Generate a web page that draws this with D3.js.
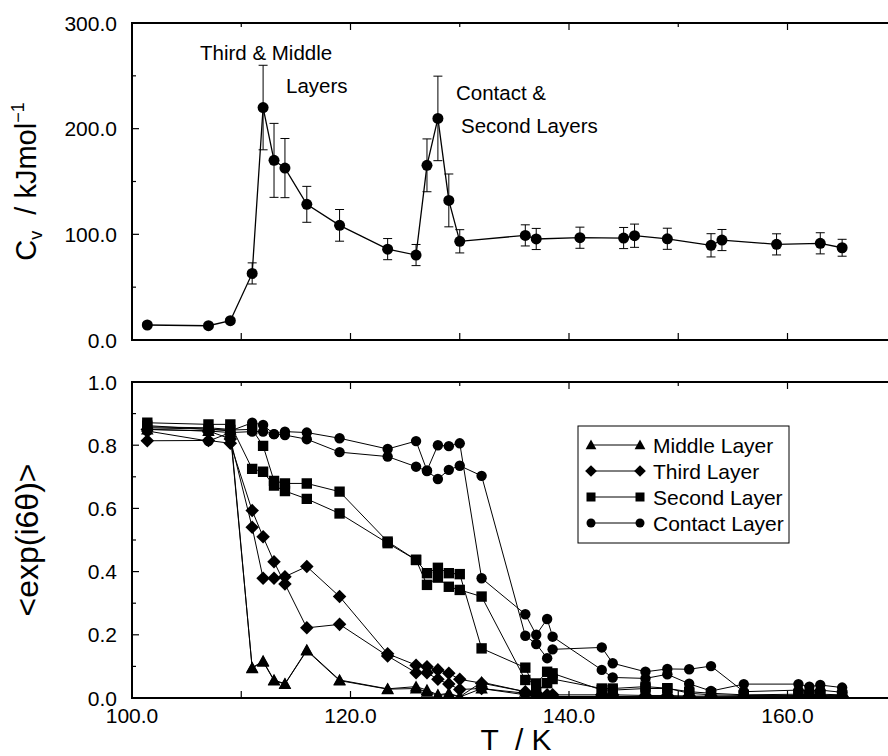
<!DOCTYPE html>
<html>
<head>
<meta charset="utf-8">
<script src="https://d3js.org/d3.v7.min.js"></script>
<style>
body { margin: 0; background: #fff; }
svg { display: block; font-family: "Liberation Sans", Arial, Helvetica, sans-serif; }
</style>
</head>
<body>
<svg width="888" height="756"></svg>
<script>
// top panel: heat capacity with error bars
var cvTemps  = [101.4, 107, 109, 111, 112, 113, 114, 116, 119, 123.4, 126, 127, 128, 129, 130,
                136, 137, 141, 145, 146, 149, 153, 154, 159, 163, 165];
var cvValues = [14.2, 13.5, 18.3, 63, 220, 170, 162.7, 128.4, 108.5, 86, 80.4, 165.3, 209.7, 132.1, 93.4,
                99, 95.6, 96.8, 96.5, 98.7, 95.8, 89.6, 94.6, 90.5, 91.5, 87.3];
var cvErrors = [2, 2, 2, 10, 40, 35, 28, 17, 15, 10, 10, 25, 40, 25, 11,
                10, 10, 10, 10, 11, 10, 11, 10, 10, 10, 8];

// bottom panel: order parameter, two runs for each layer
var psiTemps = [101.4, 107, 109, 111, 112, 113, 114, 116, 119, 123.4, 126, 127, 128, 129, 130, 132,
                136, 137, 138, 138.5, 143, 144, 147, 149, 151, 153, 156, 161, 162, 163, 165];
var middleA  = [0.85, 0.845, 0.84, 0.096, 0.117, 0.057, 0.045, 0.152, 0.057, 0.029, 0.036, 0.025, 0.01, 0.015, 0.004, 0.05,
                0.02, 0.01, 0.005, 0.005, 0.004, 0.004, 0.004, 0.004, 0.003, 0.003, 0.003, 0.003, 0.003, 0.003, 0.003];
var middleB  = [0.858, 0.855, 0.85, 0.094, 0.115, 0.055, 0.044, 0.15, 0.055, 0.028, 0.03, 0.02, 0.008, 0.012, 0.003, 0.03,
                0.01, 0.005, 0.004, 0.004, 0.003, 0.003, 0.003, 0.003, 0.002, 0.002, 0.002, 0.002, 0.002, 0.002, 0.002];
var thirdA   = [0.814, 0.815, 0.806, 0.593, 0.51, 0.431, 0.361, 0.222, 0.233, 0.133, 0.08, 0.08, 0.059, 0.044, 0.027, 0.03,
                0.015, 0.01, 0.008, 0.005, 0.005, 0.005, 0.004, 0.004, 0.003, 0.003, 0.003, 0.003, 0.003, 0.003, 0.003];
var thirdB   = [0.85, 0.845, 0.82, 0.54, 0.379, 0.379, 0.384, 0.416, 0.321, 0.14, 0.104, 0.099, 0.089, 0.078, 0.059, 0.047,
                0.02, 0.015, 0.01, 0.01, 0.01, 0.01, 0.008, 0.008, 0.006, 0.006, 0.005, 0.005, 0.005, 0.005, 0.005];
var secondA  = [0.871, 0.866, 0.866, 0.725, 0.716, 0.672, 0.655, 0.63, 0.584, 0.49, 0.437, 0.358, 0.381, 0.352, 0.342, 0.321,
                0.057, 0.046, 0.083, 0.078, 0.025, 0.025, 0.03, 0.03, 0.02, 0.015, 0.01, 0.012, 0.01, 0.012, 0.01];
var secondB  = [0.862, 0.85, 0.848, 0.85, 0.798, 0.687, 0.679, 0.679, 0.653, 0.495, 0.437, 0.395, 0.412, 0.395, 0.392, 0.157,
                0.096, 0.02, 0.047, 0.06, 0.03, 0.03, 0.036, 0.031, 0.015, 0.01, 0.008, 0.008, 0.008, 0.008, 0.008];
var contactA = [0.855, 0.851, 0.845, 0.871, 0.864, 0.835, 0.843, 0.84, 0.822, 0.788, 0.813, 0.72, 0.8, 0.797, 0.806, 0.379,
                0.265, 0.2, 0.25, 0.194, 0.089, 0.065, 0.062, 0.075, 0.045, 0.022, 0.044, 0.044, 0.036, 0.041, 0.033];
var contactB = [0.845, 0.813, 0.84, 0.843, 0.843, 0.835, 0.832, 0.819, 0.778, 0.764, 0.732, 0.718, 0.693, 0.722, 0.735, 0.703,
                0.197, 0.171, 0.126, 0.154, 0.16, 0.11, 0.083, 0.092, 0.091, 0.101, 0.02, 0.025, 0.022, 0.025, 0.018];

var layerNames = ["Middle Layer", "Third Layer", "Second Layer", "Contact Layer"];
var layerShapes = ["triangle", "diamond", "square", "circle"];

var tTicks = [100, 110, 120, 130, 140, 150, 160, 170];
var tLabels = [100, 120, 140, 160];
var cvTicks = [0, 50, 100, 150, 200, 250, 300];
var cvLabels = [0, 100, 200, 300];
var psiTicks = [0, 0.1, 0.2, 0.3, 0.4, 0.5, 0.6, 0.7, 0.8, 0.9, 1.0];
var psiLabels = [0, 0.2, 0.4, 0.6, 0.8, 1.0];

var svg = d3.select("svg");

var left = 132, right = 896.75;
var x = d3.scaleLinear().domain([100, 170]).range([left, right]);
var yTop = d3.scaleLinear().domain([0, 300]).range([340, 23]);
var yBot = d3.scaleLinear().domain([0, 1]).range([698, 382]);

function markerPath(shape, r) {
    if (shape == "square") return "M" + (-r) + "," + (-r) + "H" + r + "V" + r + "H" + (-r) + "Z";
    if (shape == "diamond") { var s = r * 1.3; return "M0," + (-s) + "L" + s + ",0L0," + s + "L" + (-s) + ",0Z"; }
    if (shape == "triangle") { var t = r * 1.2; return "M0," + (-t) + "L" + t + "," + (t * 0.8) + "L" + (-t) + "," + (t * 0.8) + "Z"; }
    return "M" + r + ",0A" + r + "," + r + " 0 1 1 " + (-r) + ",0A" + r + "," + r + " 0 1 1 " + r + ",0Z";
}

function frame(y, yTicks, yLabels, fmt, showXLabels) {
    var g = svg.append("g");
    var y0 = y.range()[0], y1 = y.range()[1];

    // x ticks, inward on both edges
    g.selectAll(".xb").data(tTicks).enter().append("line")
        .attr("x1", function (d) { return x(d); }).attr("x2", function (d) { return x(d); })
        .attr("y1", y0).attr("y2", y0 - 7)
        .attr("stroke", "#000").attr("stroke-width", 1.2);
    g.selectAll(".xt").data(tTicks).enter().append("line")
        .attr("x1", function (d) { return x(d); }).attr("x2", function (d) { return x(d); })
        .attr("y1", y1).attr("y2", function (d) { return d % 20 == 0 ? y1 + 7 : y1 + 4; })
        .attr("stroke", "#000").attr("stroke-width", 1.2);

    g.selectAll(".yt").data(yTicks).enter().append("line")
        .attr("x1", left).attr("x2", function (d) { return yLabels.indexOf(d) >= 0 ? left + 7 : left + 4; })
        .attr("y1", function (d) { return y(d); }).attr("y2", function (d) { return y(d); })
        .attr("stroke", "#000").attr("stroke-width", 1.2);

    g.selectAll(".yl").data(yLabels).enter().append("text")
        .attr("x", 117)
        .attr("y", function (d) { return y(d); })
        .attr("dy", "0.36em")
        .attr("text-anchor", "end")
        .attr("font-size", 21)
        .text(function (d) { return fmt(d); });

    if (showXLabels) {
        g.selectAll(".xl").data(tLabels).enter().append("text")
            .attr("x", function (d) { return x(d); })
            .attr("y", 723)
            .attr("text-anchor", "middle")
            .attr("font-size", 21)
            .text(function (d) { return d3.format(".1f")(d); });
    }

    g.append("path")
        .attr("d", "M" + right + "," + y1 + "H" + left + "V" + y0 + "H" + right)
        .attr("fill", "none").attr("stroke", "#000").attr("stroke-width", 2);
}

frame(yTop, cvTicks, cvLabels, d3.format(".1f"), false);
frame(yBot, psiTicks, psiLabels, d3.format(".1f"), true);

// ---- top panel ----
var cvData = cvTemps.map(function (t, i) { return { t: t, v: cvValues[i], e: cvErrors[i] }; });

var bars = svg.append("g").attr("stroke", "#000").attr("stroke-width", 1);
cvData.forEach(function (d) {
    bars.append("line").attr("x1", x(d.t)).attr("x2", x(d.t))
        .attr("y1", yTop(d.v - d.e)).attr("y2", yTop(d.v + d.e));
    bars.append("line").attr("x1", x(d.t) - 4.5).attr("x2", x(d.t) + 4.5)
        .attr("y1", yTop(d.v - d.e)).attr("y2", yTop(d.v - d.e));
    bars.append("line").attr("x1", x(d.t) - 4.5).attr("x2", x(d.t) + 4.5)
        .attr("y1", yTop(d.v + d.e)).attr("y2", yTop(d.v + d.e));
});

svg.append("path")
    .datum(cvData)
    .attr("fill", "none").attr("stroke", "#000").attr("stroke-width", 1.3)
    .attr("d", d3.line().x(function (d) { return x(d.t); }).y(function (d) { return yTop(d.v); }));

svg.append("g").selectAll("path").data(cvData).enter().append("path")
    .attr("transform", function (d) { return "translate(" + x(d.t) + "," + yTop(d.v) + ")"; })
    .attr("d", markerPath("circle", 5.5))
    .attr("fill", "#000");

var notes = svg.append("g").attr("font-size", 20.5);
notes.append("text").attr("x", 200).attr("y", 60).text("Third & Middle");
notes.append("text").attr("x", 286).attr("y", 93).text("Layers");
notes.append("text").attr("x", 456).attr("y", 100).text("Contact &");
notes.append("text").attr("x", 461).attr("y", 133).text("Second Layers");

// y label top
var yl = svg.append("text")
    .attr("transform", "translate(36," + ((yTop.range()[0] + yTop.range()[1]) / 2) + ") rotate(-90)")
    .attr("text-anchor", "middle")
    .attr("font-size", 29);
yl.append("tspan").text("C");
yl.append("tspan").attr("font-size", 18).attr("dy", 6).text("v");
yl.append("tspan").attr("dy", -6).attr("xml:space", "preserve").text("  / kJmol");
yl.append("tspan").attr("font-size", 18).attr("dy", -12).text("\u22121");

// ---- bottom panel ----
svg.append("clipPath").attr("id", "clipBot").append("rect")
    .attr("x", left).attr("y", 382).attr("width", right - left).attr("height", 698 - 382);

var series = [
    { shape: "triangle", values: middleA },
    { shape: "triangle", values: middleB },
    { shape: "diamond", values: thirdA },
    { shape: "diamond", values: thirdB },
    { shape: "square", values: secondA },
    { shape: "square", values: secondB },
    { shape: "circle", values: contactA },
    { shape: "circle", values: contactB }
];

var plot = svg.append("g").attr("clip-path", "url(#clipBot)");

var psiLine = d3.line()
    .defined(function (d) { return d.v != null; })
    .x(function (d) { return x(d.t); })
    .y(function (d) { return yBot(d.v); });

series.forEach(function (s) {
    s.points = psiTemps.map(function (t, i) { return { t: t, v: s.values[i] }; });
    plot.append("path")
        .datum(s.points)
        .attr("fill", "none").attr("stroke", "#000").attr("stroke-width", 1)
        .attr("d", psiLine);
});

series.forEach(function (s) {
    plot.append("g").selectAll("path")
        .data(s.points.filter(function (d) { return d.v != null; }))
        .enter().append("path")
        .attr("transform", function (d) { return "translate(" + x(d.t) + "," + yBot(d.v) + ")"; })
        .attr("d", markerPath(s.shape, 5.2))
        .attr("fill", "#000");
});

// legend
var leg = svg.append("g").attr("transform", "translate(578,426)");
leg.append("rect").attr("width", 211).attr("height", 117)
    .attr("fill", "#fff").attr("stroke", "#000").attr("stroke-width", 1);
var rows = leg.selectAll("g").data(layerNames).enter().append("g")
    .attr("transform", function (d, i) { return "translate(0," + (19 + i * 26) + ")"; });
rows.append("line").attr("x1", 13).attr("x2", 62).attr("stroke", "#000").attr("stroke-width", 1);
rows.append("path").attr("transform", "translate(13,0)")
    .attr("d", function (d, i) { return markerPath(layerShapes[i], 4.5); });
rows.append("path").attr("transform", "translate(62,0)")
    .attr("d", function (d, i) { return markerPath(layerShapes[i], 4.5); });
rows.append("text").attr("x", 75).attr("dy", "0.36em").attr("font-size", 21)
    .text(function (d) { return d; });

// bottom y label and x label
svg.append("text")
    .attr("transform", "translate(38," + ((yBot.range()[0] + yBot.range()[1]) / 2) + ") rotate(-90)")
    .attr("text-anchor", "middle")
    .attr("font-size", 32)
    .text("<exp(i6\u03B8)>");

svg.append("text")
    .attr("x", 516).attr("y", 750)
    .attr("text-anchor", "middle")
    .attr("font-size", 30)
    .attr("xml:space", "preserve")
    .style("white-space", "pre")
    .text("T  / K");
</script>
</body>
</html>
